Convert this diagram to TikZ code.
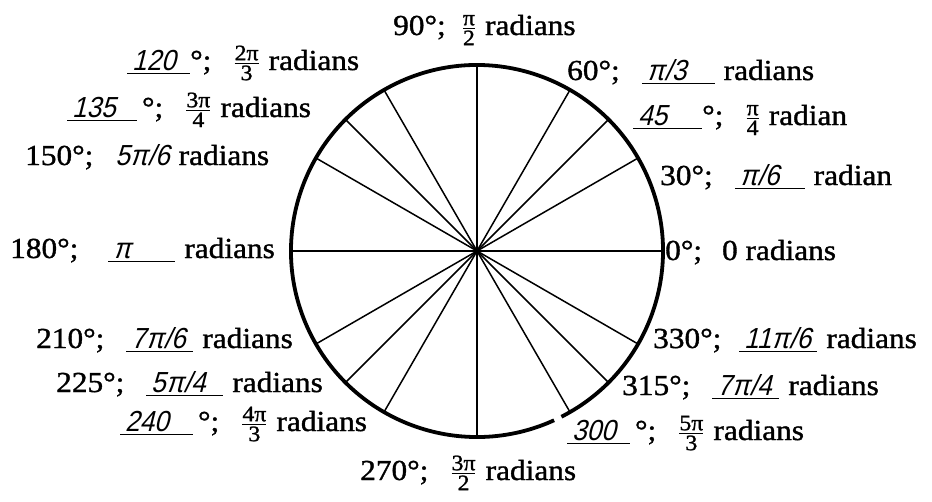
\documentclass[tikz,border=0pt]{standalone}
\usepackage{amsmath}
\usepackage{fontspec}
\setmainfont{Liberation Serif}
\newfontfamily\prnt[FakeStretch=1.08,FakeBold=1.2]{Liberation Serif}
\newfontfamily\hand[FakeSlant=0.25,FakeStretch=0.9]{Liberation Sans}
\usetikzlibrary{positioning}

\newcommand\fr[2]{$\genfrac{}{}{1.2pt}{}{\hbox{\fontsize{22}{22}\selectfont\prnt #1}}{\hbox{\fontsize{22}{22}\selectfont\prnt #2}}$}
\newcommand\hw[2]{\makebox[#1][l]{\hand\fontsize{29}{29}\selectfont\,#2}\kern-#1\rule[-4pt]{#1}{1.5pt}}
\newcommand\gap{\hspace{22pt}}
\newcommand\gapb{\hspace{9pt}}

\begin{document}
\begin{tikzpicture}[x=1pt,y=-1pt,
  lbl/.style={anchor=base west,inner sep=0pt,font=\prnt\fontsize{29}{32}\selectfont},
  rim/.style={line width=3.8pt},
  spoke/.style={line width=1.5pt}]
  \useasboundingbox (0,0) rectangle (932,501);
  \coordinate (O) at (477,251);
  % circle and spokes
  \draw[rim] (O) ++(-63:186pt) arc[start angle=-63,end angle=294.5,radius=186pt];
  \foreach \a in {0,30,45,60,90,120,135,150,180,210,225,240,270,300,315,330}
    \draw[spoke] (O) -- ++(\a:186pt);
  % upper half
  \node[lbl] (d90) at (393,35) {90°;\hspace{16pt}\fr{π}{2}\gapb radians};
  \node[lbl] (d60) at (567,80) {60°;\gap\hw{73pt}{π/3}\gapb radians};
  \node[lbl] (d45) at (633,125) {\hw{69pt}{45}°;\gap\fr{π}{4}\gapb radian};
  \node[lbl] (d30) at (660,185) {30°;\gap\hw{70pt}{π/6}\gapb radian};
  \node[lbl] (d0) at (665,260) {0°;\hspace{20pt}0 radians};
  \node[lbl] (d120) at (127,70) {\hw{63pt}{120}°;\gap\fr{2π}{3}\gapb radians};
  \node[lbl] (d135) at (67,117) {\hw{70pt}{135}\,°;\gap\fr{3π}{4}\gapb radians};
  \node[lbl] (d150) at (25,165) {150°;\gap{\hand\fontsize{29}{29}\selectfont 5π/6}\gapb radians};
  \node[lbl] (d180) at (10,258) {180°;\hspace{30pt}\hw{67pt}{π}\gapb radians};
  % lower half
  \node[lbl] (d210) at (36,348) {210°;\gap\hw{67pt}{7π/6}\gapb radians};
  \node[lbl] (d225) at (56,392) {225°;\gap\hw{77pt}{5π/4}\gapb radians};
  \node[lbl] (d240) at (120,431) {\hw{73pt}{240}\,°;\gap\fr{4π}{3}\gapb radians};
  \node[lbl] (d270) at (360,480) {270°;\gap\fr{3π}{2}\gapb radians};
  \node[lbl] (d330) at (653,348) {330°;\hspace{18pt}\hw{78pt}{11π/6}\gapb radians};
  \node[lbl] (d315) at (622,395) {315°;\gap\hw{67pt}{7π/4}\gapb radians};
  \node[lbl] (d300) at (567,440) {\hw{63pt}{300}\,°;\gap\fr{5π}{3}\gapb radians};
\end{tikzpicture}
\end{document}
